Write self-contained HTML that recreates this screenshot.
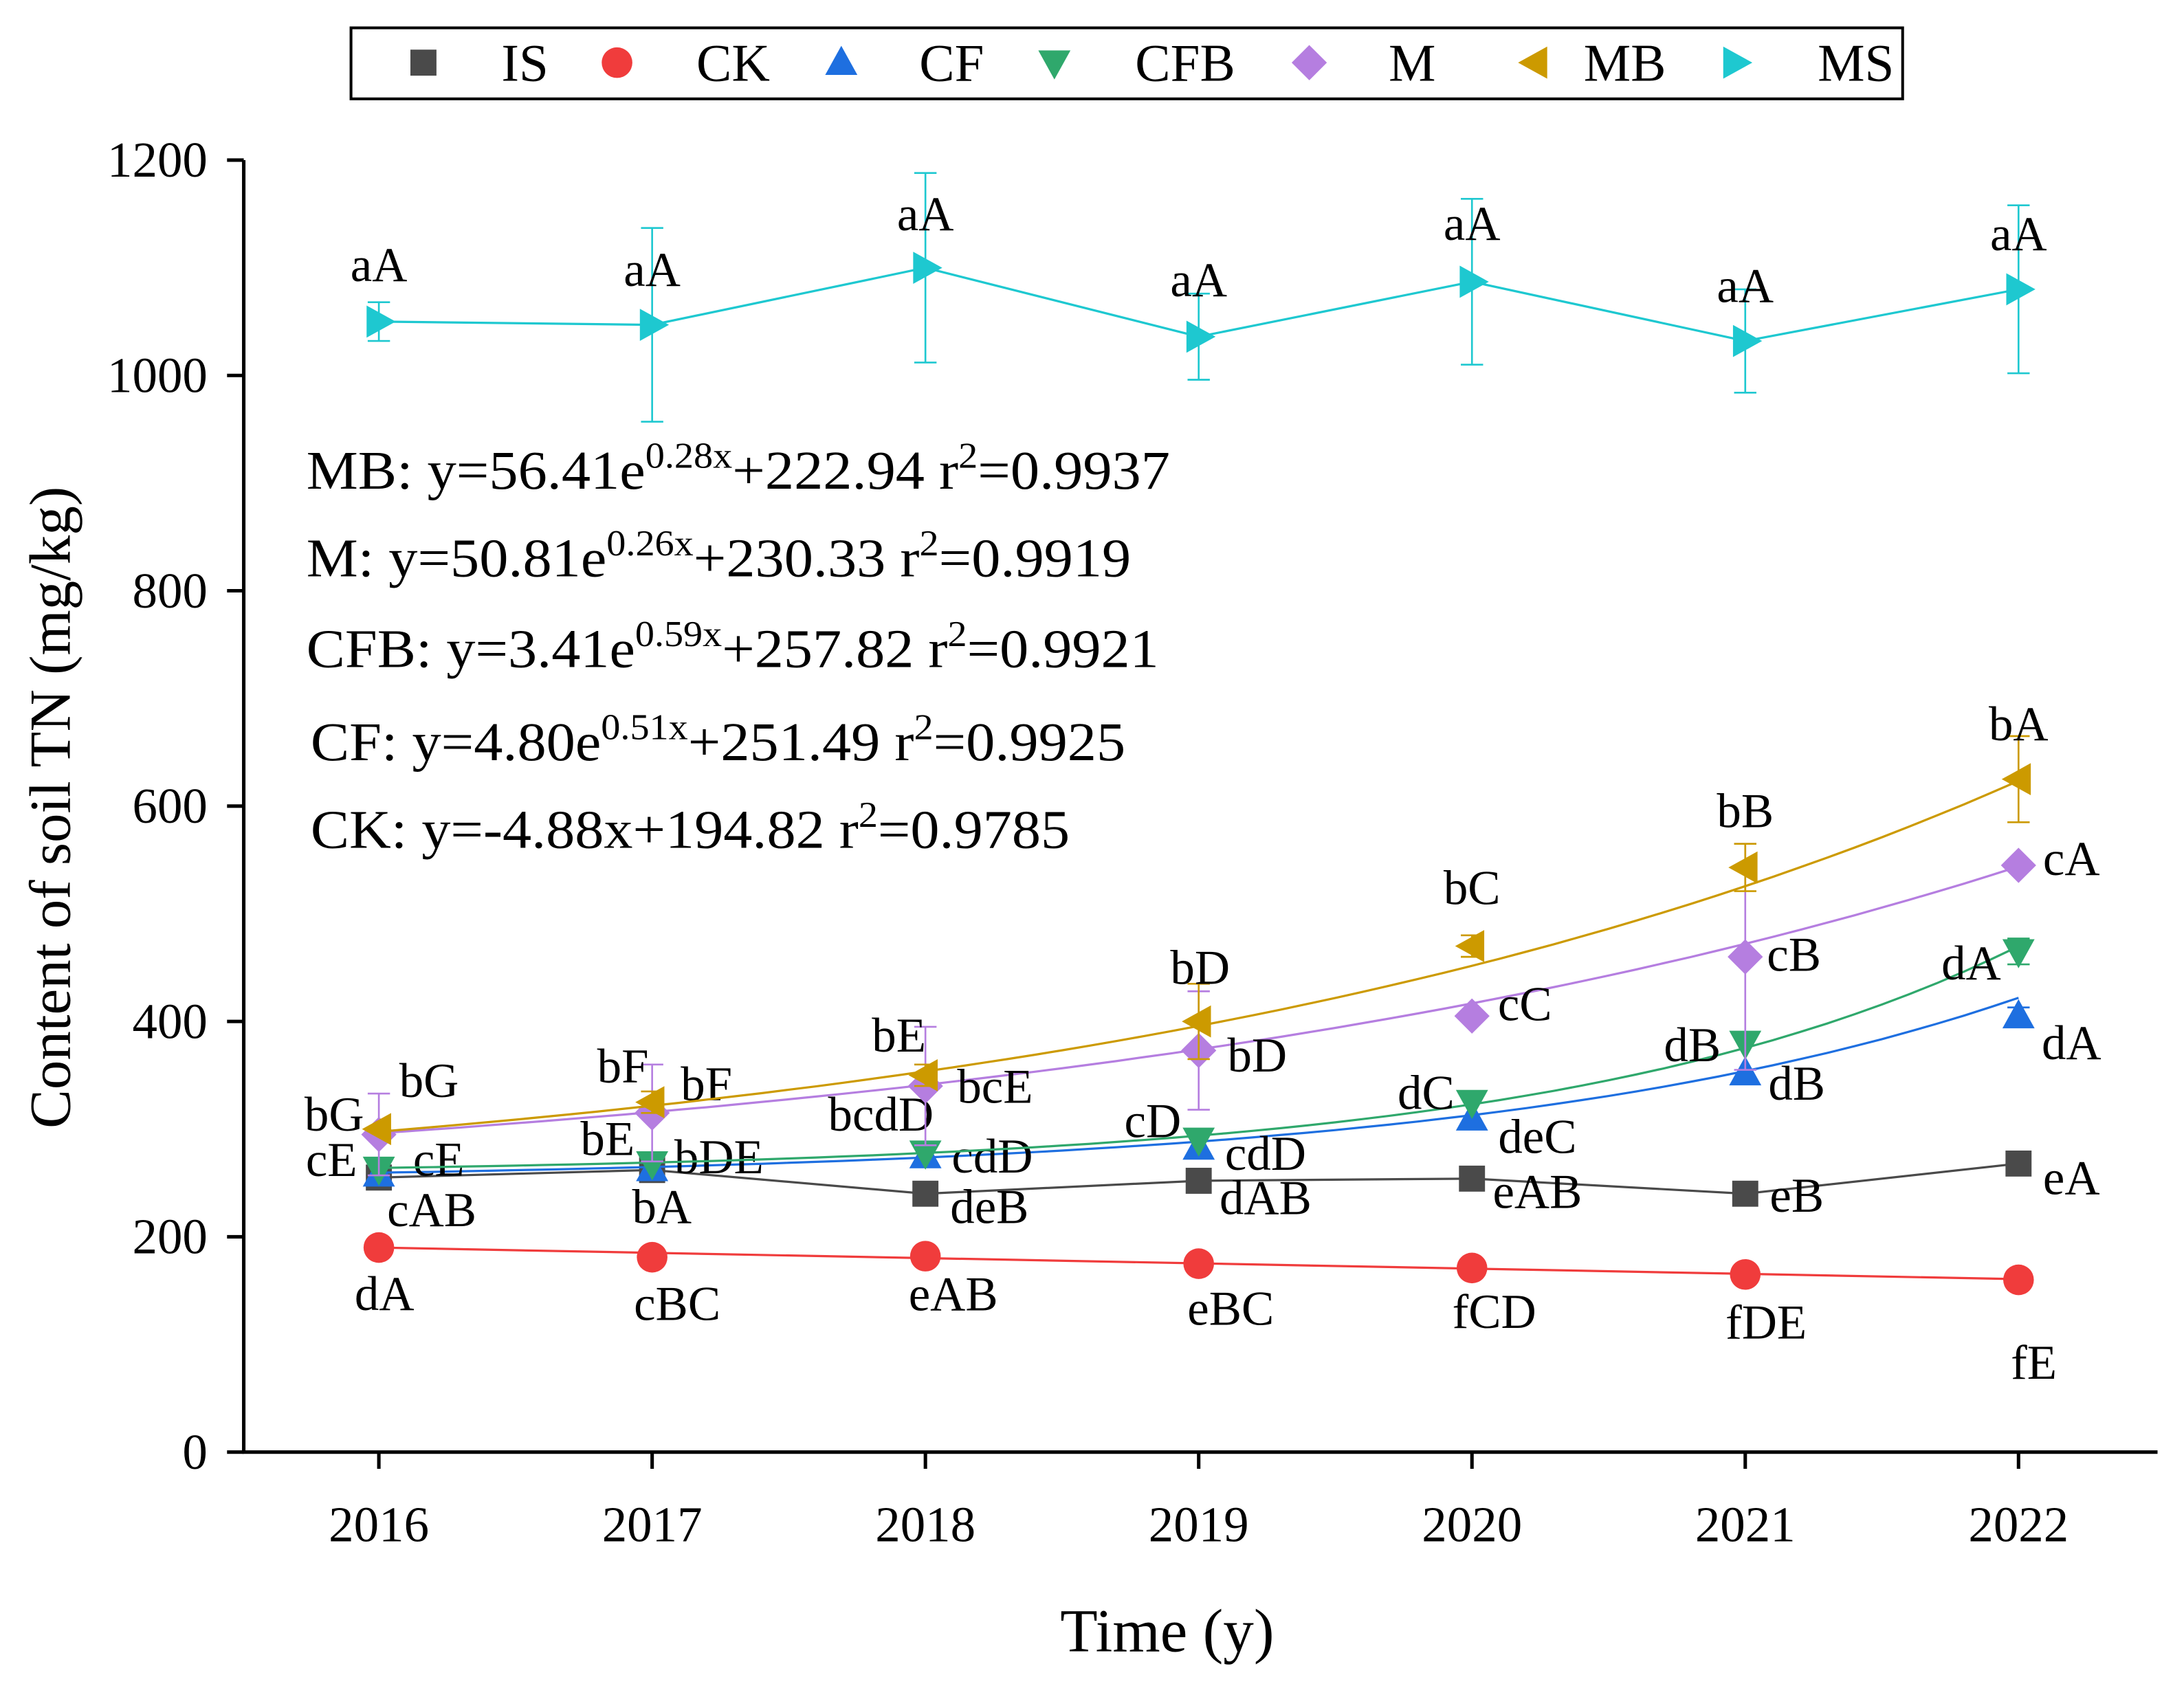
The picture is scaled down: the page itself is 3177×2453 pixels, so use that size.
<!DOCTYPE html>
<html><head><meta charset="utf-8"><style>html,body{margin:0;padding:0;background:#fff}svg{display:block}</style></head>
<body>
<svg id="chart" width="3177" height="2453" viewBox="0 0 1568 1211" preserveAspectRatio="none" xmlns="http://www.w3.org/2000/svg" font-family="'Liberation Serif', serif">
<rect width="1568" height="1211" fill="#fff"/>
<g id="legend">
<rect x="252" y="20" width="1114" height="51" fill="#fff" stroke="#000" stroke-width="2"/>
</g>
<g id="axes"></g>
<g id="plot"></g>
<g font-size="39" fill="#000">
<text x="220" y="351" textLength="620" lengthAdjust="spacingAndGlyphs">MB: y=56.41e<tspan dy="-15" font-size="26">0.28x</tspan><tspan dy="15">+222.94 r</tspan><tspan dy="-15" font-size="26">2</tspan><tspan dy="15">=0.9937</tspan></text>
<text x="220" y="414" textLength="592" lengthAdjust="spacingAndGlyphs">M: y=50.81e<tspan dy="-15" font-size="26">0.26x</tspan><tspan dy="15">+230.33 r</tspan><tspan dy="-15" font-size="26">2</tspan><tspan dy="15">=0.9919</tspan></text>
<text x="220" y="479" textLength="612" lengthAdjust="spacingAndGlyphs">CFB: y=3.41e<tspan dy="-15" font-size="26">0.59x</tspan><tspan dy="15">+257.82 r</tspan><tspan dy="-15" font-size="26">2</tspan><tspan dy="15">=0.9921</tspan></text>
<text x="223" y="546" textLength="585" lengthAdjust="spacingAndGlyphs">CF: y=4.80e<tspan dy="-15" font-size="26">0.51x</tspan><tspan dy="15">+251.49 r</tspan><tspan dy="-15" font-size="26">2</tspan><tspan dy="15">=0.9925</tspan></text>
<text x="223" y="609" textLength="545" lengthAdjust="spacingAndGlyphs">CK: y=-4.88x+194.82 r<tspan dy="-15" font-size="26">2</tspan><tspan dy="15">=0.9785</tspan></text>
</g>
<text x="838" y="1186" font-size="44" text-anchor="middle">Time (y)</text>
<text transform="translate(50,580) rotate(-90)" font-size="42" text-anchor="middle">Content of soil TN (mg/kg)</text>
</svg>
<script>
const years = ["2016","2017","2018","2019","2020","2021","2022"];
const yTicks = [0,200,400,600,800,1000,1200];
const valIS = [255,262,240,252,254,240,268];
const valCK = [190,181,182,175,171,165,160];
const valCF = [258,263,275,283,310,352,405];
const valCFB = [263,268,278,290,325,380,465];
const valM = [295,315,340,373,405,460,545];
const valMB = [300,325,350,400,470,543,625];
const valMS = [1050,1047,1100,1036,1087,1032,1080];
const errMS = [18,90,88,40,77,48,78];
const errMB = [0,10,10,35,10,22,40];
const errM = [38,45,55,55,0,105,0];
const errCFB = [0,0,0,0,0,0,12];
const errCF = [0,0,0,0,0,0,8];
const fitCK = [-4.88,194.82];
const fitCF = [4.80,0.51,251.49];
const fitCFB = [3.41,0.59,257.82];
const fitM = [50.81,0.26,230.33];
const fitMB = [56.41,0.28,222.94];
const labMS = ["aA","aA","aA","aA","aA","aA","aA"];
const labMB = ["bG","bF","bE","bD","bC","bB","bA"];
const labM = ["bG","bF","bcE","bD","cC","cB","cA"];
const labCFB = ["cE","bE","bcdD","cD","dC","dB","dA"];
const labCF = ["cE","bDE","cdD","cdD","deC","dB","dA"];
const labIS = ["cAB","bA","deB","dAB","eAB","eB","eA"];
const labCK = ["dA","cBC","eAB","eBC","fCD","fDE","fE"];

const NS="http://www.w3.org/2000/svg";
const X0=272, XS=196.2, Y0=1043, YS=(1043-115)/1200;
const xs=i=>X0+i*XS, ys=v=>Y0-v*YS;
const xf=t=>X0+(t-1)*XS;
function mk(tag,attrs,parent){const e=document.createElementNS(NS,tag);for(const k in attrs)e.setAttribute(k,attrs[k]);parent.appendChild(e);return e;}
const axes=document.getElementById('axes'), plot=document.getElementById('plot'), legend=document.getElementById('legend');

let l=mk('line',{x1:175,y1:115,x2:175,y2:1044,stroke:'#000','stroke-width':2.5},axes);


l=mk('line',{x1:174,y1:1043,x2:1549,y2:1043,stroke:'#000','stroke-width':2.5},axes);


yTicks.forEach(v=>{
  mk('line',{x1:163,y1:ys(v),x2:175,y2:ys(v),stroke:'#000','stroke-width':2.5},axes);
  const t=mk('text',{x:149,y:ys(v)+12,'font-size':36,'text-anchor':'end'},axes);
  t.textContent=v;
  
  
});
years.forEach((y,i)=>{
  mk('line',{x1:xs(i),y1:1043,x2:xs(i),y2:1055,stroke:'#000','stroke-width':2.5},axes);
  const t=mk('text',{x:xs(i),y:1107,'font-size':36,'text-anchor':'middle'},axes);
  t.textContent=y;
  
  
});

function marker(type,cx,cy,col,parent,s){
  s=s||11;let p;
  if(type==='sq')p=mk('rect',{x:cx-s*0.85,y:cy-s*0.85,width:s*1.7,height:s*1.7,fill:col},parent);
  else if(type==='ci')p=mk('circle',{cx,cy,r:s,fill:col},parent);
  else{let pts;
    if(type==='up')pts=[[0,-s*1.1],[s*1.05,s*0.8],[-s*1.05,s*0.8]];
    if(type==='dn')pts=[[0,s*1.1],[s*1.05,-s*0.8],[-s*1.05,-s*0.8]];
    if(type==='di')pts=[[0,-s*1.15],[s*1.15,0],[0,s*1.15],[-s*1.15,0]];
    if(type==='lt')pts=[[-s*1.1,0],[s*0.8,-s*1.05],[s*0.8,s*1.05]];
    if(type==='rt')pts=[[s*1.1,0],[-s*0.8,-s*1.05],[-s*0.8,s*1.05]];
    p=mk('polygon',{points:pts.map(q=>(cx+q[0])+','+(cy+q[1])).join(' '),fill:col},parent);}
  return p;
}
function expFit(f){let d='';for(let t=1;t<=7.0001;t+=0.1){d+=(d?'L':'M')+xf(t).toFixed(1)+','+ys(f[0]*Math.exp(f[1]*t)+f[2]).toFixed(1);}return d;}
function series(name,vals,err,col,type,pathD,labs,lx,ly){
  const g=mk('g',{},plot);
  
  
  const pl=mk('path',{d:pathD,fill:'none',stroke:col,'stroke-width':1.6},g);
  
  
  vals.forEach((v,i)=>{
    if(err&&err[i]>0){
      const x=xs(i);
      mk('path',{d:`M${x},${ys(v+err[i])}V${ys(v-err[i])}M${x-8},${ys(v+err[i])}H${x+8}M${x-8},${ys(v-err[i])}H${x+8}`,stroke:col,'stroke-width':1.3,fill:'none'},g);
    }
    const m=marker(type,xs(i),ys(v),col,g);
    
    
    const t=mk('text',{x:xs(i)+lx[i],y:ys(v)+ly[i],'font-size':35,'text-anchor':'middle',fill:'#000'},g);
    t.textContent=labs[i];
    
    
  });
}
const C={IS:'#4a4a4a',CK:'#f03c3c',CF:'#1e6fe0',CFB:'#2fa86c',M:'#b57ee0',MB:'#cc9a00',MS:'#1ec8d0'};
const lin=v=>v.map((a,i)=>(i?'L':'M')+xs(i)+','+ys(a)).join('');
series('IS',valIS,null,C.IS,'sq',lin(valIS),labIS,[38,7,46,48,47,37,38],[35,38,21,24,21,13,22]);
series('CK',valCK,null,C.CK,'ci','M'+xf(1)+','+ys(fitCK[0]+fitCK[1])+'L'+xf(7)+','+ys(fitCK[0]*7+fitCK[1]),labCK,[4,18,20,23,16,15,11],[45,45,39,44,43,46,71]);
series('CF',valCF,errCF,C.CF,'up',expFit(fitCF),labCF,[43,48,48,48,47,37,38],[1,3,12,16,25,19,31]);
series('CFB',valCFB,errCFB,C.CFB,'dn',expFit(fitCFB),labCFB,[-34,-32,-32,-33,-33,-38,-34],[5,-6,-16,-2,5,13,20]);
series('M',valM,errM,C.M,'di',expFit(fitM),labM,[36,39,50,42,38,35,38],[-27,-9,12,15,3,10,7]);
series('MB',valMB,errMB,C.MB,'lt',expFit(fitMB),labMB,[-32,-21,-19,1,0,0,0],[1,-14,-17,-27,-30,-29,-28]);
series('MS',valMS,errMS,C.MS,'rt',lin(valMS),labMS,[0,0,0,0,0,0,0],[-29,-28,-27,-29,-30,-28,-28]);

const legItems=[['IS','sq',304,360],['CK','ci',443,500],['CF','up',604,660],['CFB','dn',757,815],['M','di',940,997],['MB','lt',1102,1137],['MS','rt',1246,1305]];
legItems.forEach(it=>{
  const g=mk('g',{},legend);
  
  
  marker(it[1],it[2],45,C[it[0]],g,11);
  const t=mk('text',{x:it[3],y:58,'font-size':38},g);
  t.textContent=it[0];
});
</script>
</body></html>
